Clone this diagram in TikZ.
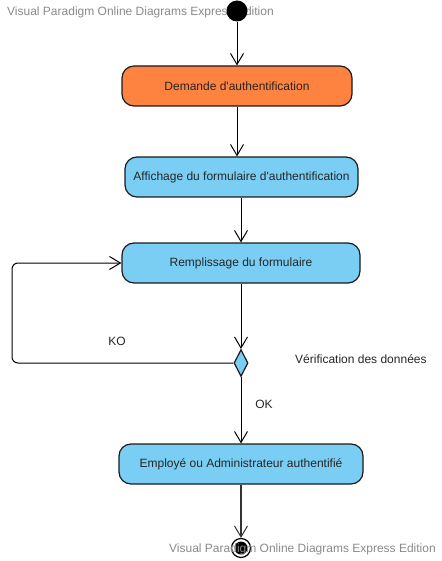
\documentclass[tikz,border=0pt]{standalone}
\usepackage{fontspec}
\setmainfont{Liberation Sans}
\usetikzlibrary{arrows.meta,shapes.geometric}
\definecolor{actorange}{HTML}{FF8340}
\definecolor{actblue}{HTML}{7ACEF4}
\definecolor{wmgray}{HTML}{8A8A8A}
\definecolor{edgecol}{HTML}{1A1A1A}
\tikzset{
  act/.style={draw=edgecol, line width=1.2pt, rounded corners=12pt, minimum height=40pt,
    font=\fontsize{12}{14}\selectfont, text=black!85, inner sep=0pt},
  flow/.style={draw=black, line width=1pt, -{Straight Barb[length=11pt,width=13pt,line width=1pt]}},
  lbl/.style={font=\fontsize{12}{14}\selectfont, text=black!85, inner sep=0pt},
  wm/.style={font=\fontsize{12}{14}\selectfont, text=wmgray, inner sep=0pt, anchor=west},
}
\begin{document}
\begin{tikzpicture}[x=1pt,y=-1pt]
\useasboundingbox (0,0) rectangle (441,561);
% watermark top
\node[wm] (wmtop) at (7,12) {Visual Paradigm Online Diagrams Express Edition};
% start
\node[circle, fill=black, minimum size=21pt, inner sep=0pt] (start) at (237,11) {};
% activities
\node[act, fill=actorange, minimum width=230pt] (b1) at (237,86) {Demande d\textquotesingle authentification};
\node[act, fill=actblue, minimum width=233pt] (b2) at (241.5,177) {Affichage du formulaire d\textquotesingle authentification};
\node[act, fill=actblue, minimum width=238pt] (b3) at (241,263) {Remplissage du formulaire};
\node[diamond, draw=edgecol, line width=1.2pt, fill=actblue, minimum width=14pt, minimum height=27pt, inner sep=0pt] (dec) at (241,363) {};
\node[act, fill=actblue, minimum width=244pt] (b4) at (241,464) {Employé ou Administrateur authentifié};
% end
\node[circle, draw=black, line width=1.2pt, minimum size=19pt, inner sep=0pt] (end) at (241,548) {};
\node[circle, fill=black, minimum size=13pt, inner sep=0pt] (endin) at (end.center) {};
% flows
\draw[flow] (start.south) -- (start.south |- b1.north);
\draw[flow] (b1.south) -- (b1.south |- b2.north);
\draw[flow] (b2.south -| b3.north) -- (b3.north);
\draw[flow] (b3.south) -- (dec.north);
\draw[flow] (dec.south) -- (b4.north);
\draw[flow, line width=1.6pt, draw=black!80] (b4.south) -- (end.north);
\coordinate (loopl) at (12,0);
\draw[flow, rounded corners=6pt] (dec.west) -- (dec.west -| loopl) -- (b3.west -| loopl) -- (b3.west);
% labels
\node[lbl] (ko) at (117,341) {KO};
\node[lbl] (ok) at (264,404) {OK};
\node[lbl, anchor=west] (verif) at (295,359) {Vérification des données};
% watermark bottom
\node[wm] (wmbot) at (169,549) {Visual Paradigm Online Diagrams Express Edition};
\end{tikzpicture}
\end{document}
